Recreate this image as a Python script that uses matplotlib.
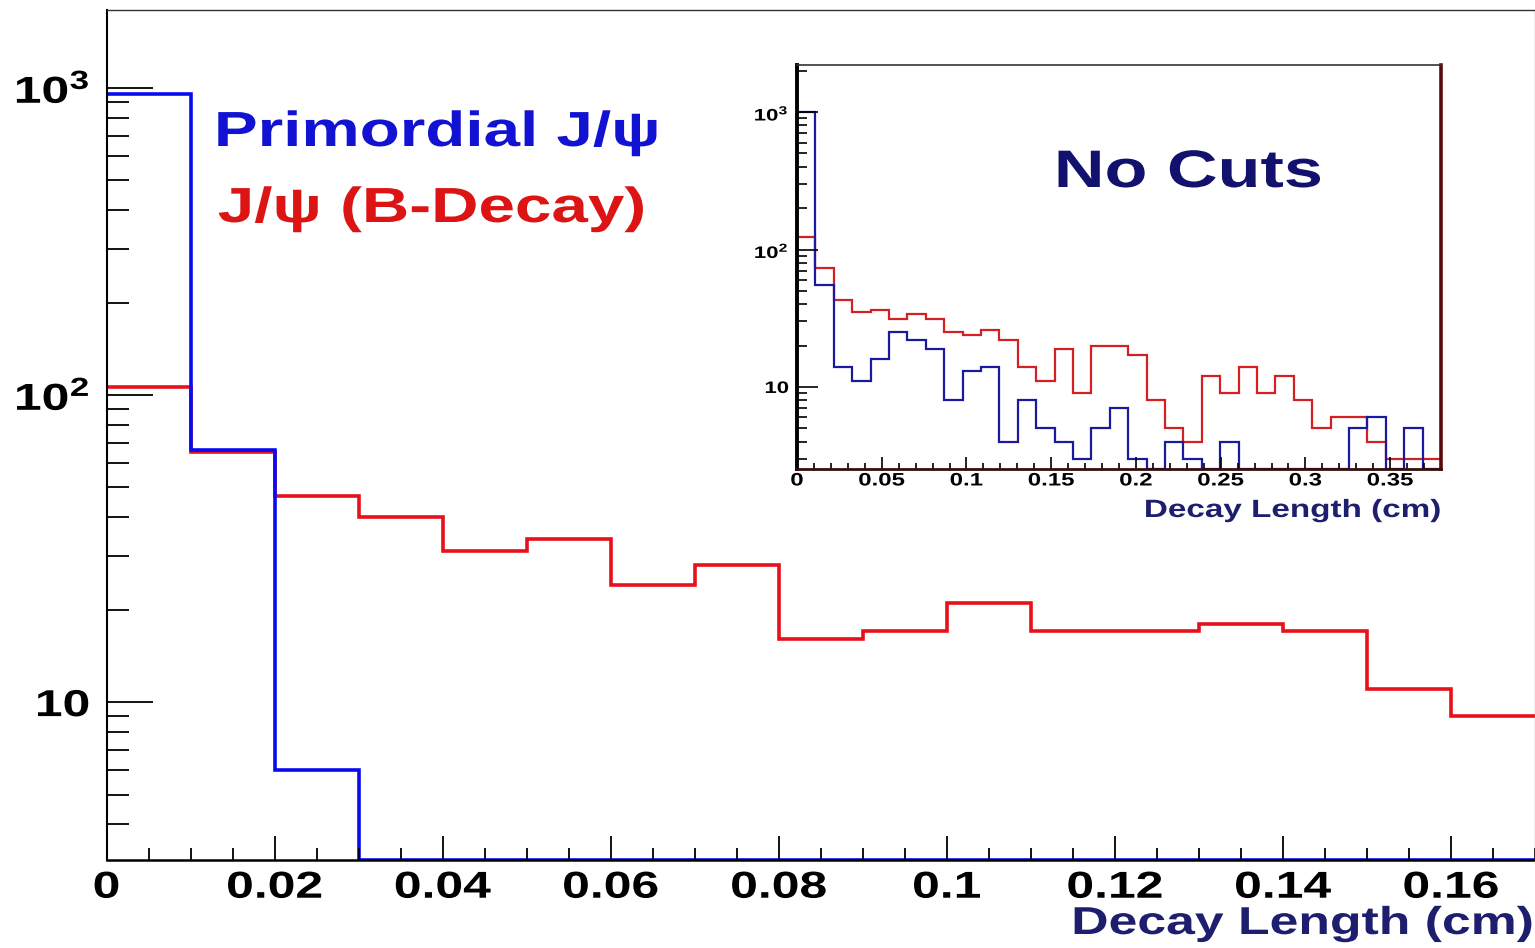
import numpy as np
import matplotlib
matplotlib.use('Agg')
import matplotlib.pyplot as plt
from matplotlib import patheffects
from matplotlib.transforms import Affine2D
from matplotlib.ticker import FixedLocator, MultipleLocator, LogLocator, NullFormatter

# main plot: 0.01 cm bins
main_edges = np.linspace(0, 0.18, 19)
main_primordial = [955, 66, 6, 0, 0, 0, 0, 0, 0, 0, 0, 0, 0, 0, 0, 0, 0, 0]
main_bdecay = [106, 65, 47, 40, 31, 34, 24, 28, 16, 17, 21, 17, 17, 18, 17, 11, 9, 9]
main_xticks = [0, 0.02, 0.04, 0.06, 0.08, 0.1, 0.12, 0.14, 0.16]
main_xlabels = ['0', '0.02', '0.04', '0.06', '0.08', '0.1', '0.12', '0.14', '0.16']

# inset: 35 bins over 0..0.38 cm
inset_edges = np.linspace(0, 0.38, 36)
inset_primordial = [1000, 55, 14, 11, 16, 25, 22, 19, 8, 13, 14, 4, 8, 5, 4, 3, 5, 7, 3, 0,
                    4, 3, 0, 4, 0, 0, 0, 0, 0, 0, 5, 6, 0, 5, 0]
inset_bdecay = [124, 73, 43, 35, 36, 31, 34, 31, 25, 24, 26, 22, 14, 11, 19, 9, 20, 20, 17, 8,
                5, 4, 12, 9, 14, 9, 12, 8, 5, 6, 6, 4, 3, 3, 3]
inset_xticks = [0, 0.05, 0.1, 0.15, 0.2, 0.25, 0.3, 0.35]
inset_xlabels = ['0', '0.05', '0.1', '0.15', '0.2', '0.25', '0.3', '0.35']

log_ticks = [10, 100, 1000]
log_labels = ['10', r'$10^{2}$', r'$10^{3}$']

plt.rcParams['font.family'] = ['Liberation Sans', 'DejaVu Sans']
plt.rcParams['font.weight'] = 'bold'
plt.rcParams['mathtext.fontset'] = 'custom'
plt.rcParams['mathtext.bf'] = 'Liberation Sans:bold'
plt.rcParams['mathtext.rm'] = 'Liberation Sans:bold'
plt.rcParams['mathtext.default'] = 'bf'

SX = 1.33  # the original lettering is wide


# widen text horizontally, keeping one side (or the centre) fixed
class Stretch(patheffects.AbstractPathEffect):
    def __init__(self, sx=SX, anchor='left'):
        super().__init__()
        self.sx = sx
        self.anchor = anchor

    def draw_path(self, renderer, gc, tpath, affine, rgbFace=None):
        ext = tpath.get_extents()
        cx = {'left': ext.x0, 'center': 0.5 * (ext.x0 + ext.x1), 'right': ext.x1}[self.anchor]
        t = Affine2D().translate(-cx, 0).scale(self.sx, 1).translate(cx, 0) + affine
        renderer.draw_path(gc, tpath, t, rgbFace)


fig = plt.figure(figsize=(15.35, 9.48), dpi=100)

# ---- main plot
ax = fig.add_axes([106.5 / 1535, 1 - 860 / 948, 1 - 106.5 / 1535, 850 / 948])
ax.set_yscale('log')
ylo, yhi = 3.06, 1795
ax.set_xlim(0, 0.17)
ax.set_ylim(ylo, yhi)
ax.stairs(np.clip(main_bdecay, ylo, None), main_edges, baseline=None, color='#e8101a', lw=2.6)
ax.stairs(np.clip(main_primordial, ylo, None), main_edges, baseline=None, color='#0a0af0', lw=2.6)

ax.xaxis.set_major_locator(FixedLocator(main_xticks))
ax.set_xticklabels(main_xlabels)
ax.xaxis.set_minor_locator(MultipleLocator(0.005))
ax.yaxis.set_major_locator(FixedLocator(log_ticks))
ax.set_yticklabels(log_labels)
ax.yaxis.set_minor_locator(LogLocator(subs=np.arange(2, 10)))
ax.yaxis.set_minor_formatter(NullFormatter())
ax.tick_params(axis='x', which='major', direction='in', length=17, width=1.3, pad=7, labelsize=27)
ax.tick_params(axis='x', which='minor', direction='in', length=9, width=1.3)
ax.tick_params(axis='y', which='major', direction='in', length=33, width=1.3, pad=12, labelsize=27)
ax.tick_params(axis='y', which='minor', direction='in', length=16, width=1.3)
for lab in ax.get_xticklabels():
    lab.set_path_effects([Stretch(anchor='center')])
for lab in ax.get_yticklabels():
    lab.set_path_effects([Stretch(anchor='right')])
ax.spines['left'].set_linewidth(1.5)
ax.spines['bottom'].set_linewidth(1.8)
ax.spines['top'].set_linewidth(1.0)
ax.spines['top'].set_color('#333333')
ax.spines['right'].set_linewidth(1.0)
ax.spines['right'].set_color('#999999')

fig.text(1533 / 1535, 1 - 934 / 948, 'Decay Length (cm)', ha='right', va='baseline',
         fontsize=28, fontweight='bold', color='#1e1e6e',
         path_effects=[Stretch(anchor='right')])
fig.text(215 / 1535, 1 - 146 / 948, 'Primordial J/ψ', ha='left', va='baseline',
         fontsize=35.5, fontweight='bold', color='#1212d2',
         path_effects=[Stretch(anchor='left')])
fig.text(218 / 1535, 1 - 222 / 948, 'J/ψ (B-Decay)', ha='left', va='baseline',
         fontsize=35.5, fontweight='bold', color='#dc1414',
         path_effects=[Stretch(anchor='left')])

# ---- inset
ins = fig.add_axes([797 / 1535, 1 - 469 / 948, 644 / 1535, 404 / 948])
ins.set_facecolor('white')
ins.set_yscale('log')
ilo, ihi = 2.53, 2200
ins.set_xlim(0, 0.38)
ins.set_ylim(ilo, ihi)
ins.stairs(np.clip(inset_bdecay, ilo, None), inset_edges, baseline=None, color='#d42020', lw=1.6)
ins.stairs(np.clip(inset_primordial, ilo, None), inset_edges, baseline=None, color='#1a1aa0', lw=1.6)

ins.xaxis.set_major_locator(FixedLocator(inset_xticks))
ins.set_xticklabels(inset_xlabels)
ins.xaxis.set_minor_locator(MultipleLocator(0.01))
ins.yaxis.set_major_locator(FixedLocator(log_ticks))
ins.set_yticklabels(log_labels)
ins.yaxis.set_minor_locator(LogLocator(subs=np.arange(2, 10)))
ins.yaxis.set_minor_formatter(NullFormatter())
ins.tick_params(axis='x', which='major', direction='in', length=9, width=1.2, pad=2.5, labelsize=13)
ins.tick_params(axis='x', which='minor', direction='in', length=4, width=1.2)
ins.tick_params(axis='y', which='major', direction='in', length=15, width=1.2, pad=6, labelsize=12)
ins.tick_params(axis='y', which='minor', direction='in', length=7, width=1.2)
for lab in ins.get_xticklabels():
    lab.set_path_effects([Stretch(anchor='center')])
for lab in ins.get_yticklabels():
    lab.set_path_effects([Stretch(anchor='right')])
ins.spines['left'].set_linewidth(2.8)
ins.spines['bottom'].set_linewidth(2.0)
ins.spines['bottom'].set_color('#3a0c0c')
ins.spines['right'].set_linewidth(2.6)
ins.spines['right'].set_color('#5a0a0a')
ins.spines['top'].set_linewidth(1.2)
ins.spines['top'].set_color('#333333')

fig.text(1055 / 1535, 1 - 187 / 948, 'No Cuts', ha='left', va='baseline',
         fontsize=38, fontweight='bold', color='#12126e',
         path_effects=[Stretch(anchor='left')])
fig.text(1441 / 1535, 1 - 517 / 948, 'Decay Length (cm)', ha='right', va='baseline',
         fontsize=18, fontweight='bold', color='#1e1e6e',
         path_effects=[Stretch(anchor='right')])

plt.savefig('out.png', dpi=100)
